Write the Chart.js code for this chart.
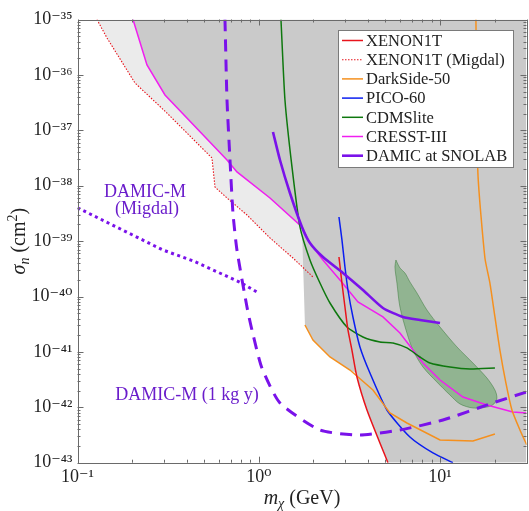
<!DOCTYPE html>
<html>
<head>
<meta charset="utf-8">
<script src="https://cdn.jsdelivr.net/npm/chart.js@4.4.0/dist/chart.umd.min.js"></script>
<style>
  html, body { margin: 0; padding: 0; background: #fff; }
  canvas { display: block; }
</style>
</head>
<body>
<canvas id="limits" width="529" height="511"></canvas>
<script>
// [mass (GeV), cross section (cm^2)]
const xenon1t = [[2.77,5.16e-40],[2.877,1.75e-40],[2.989,6.46e-41],[3.105,2.49e-41],[3.266,1.08e-41],[3.481,3.52e-42],[3.953,8.94e-43],[4.661,2.27e-43],[5.16,1e-43]];
const xenon1tMigdal = [[0.128,1e-35],[0.1455,4.64e-36],[0.2076,7.14e-37],[0.3116,2.05e-37],[0.552,3.16e-38],[0.5734,9.47e-39],[0.668,6.0e-39],[0.861,2.96e-39],[1.153,1.14e-39],[1.544,4.95e-40],[1.991,2.25e-40]];
const darkSideLow = [[1.798,3.06e-41],[1.991,1.64e-41],[2.471,8.09e-42],[3.185,4.71e-42],[4.265,2.05e-42],[5.293,7.89e-43],[6.568,5.21e-43],[10.0,2.57e-43],[15.19,2.46e-43],[20.09,3.30e-43]];
const darkSideHigh = [[15.78,1e-35],[16.18,1.70e-38],[17.69,4.95e-40],[18.85,1.75e-40],[20.09,4.27e-41],[21.4,1.08e-41],[23.09,2.75e-42],[24.93,8.94e-43],[27.6,3.89e-43],[30.1,2.09e-43]];
const pico60 = [[2.77,2.72e-39],[2.877,1.05e-39],[2.989,3.41e-40],[3.105,1.31e-40],[3.308,4.27e-41],[3.616,1.23e-41],[4.106,4.16e-42],[5.095,8.94e-43],[6.823,2.91e-43],[9.14,1.50e-43],[11.78,1e-43]];
const cdmslite = [[1.326,1e-35],[1.395,3.52e-37],[1.525,2.18e-38],[1.688,1.80e-39],[1.916,4.56e-40],[2.176,1.75e-40],[2.471,7.63e-41],[3.066,2.81e-41],[3.756,1.86e-41],[4.661,1.51e-41],[5.50,1.45e-41],[6.568,1.18e-41],[7.747,8.09e-42],[8.80,6.30e-42],[11.34,5.34e-42],[14.62,4.91e-42],[20.09,5.12e-42]];
const cresst3 = [[0.2024,1e-35],[0.2417,1.51e-36],[0.3038,4.34e-37],[0.668,2.91e-38],[0.758,1.77e-38],[1.153,6.0e-39],[1.731,1.80e-39],[1.916,9.24e-40],[2.26,4.56e-40],[2.805,1.99e-40],[3.526,7.96e-41],[4.842,4.27e-41],[6.01,2.19e-41],[7.09,1.08e-41],[8.05,6.30e-42],[10.0,3.11e-42],[13.38,1.53e-42],[18.15,1.10e-42],[25.2,8.23e-43],[30,7.89e-43]];
const damicSnolab = [[1.198,9.32e-38],[1.309,2.91e-38],[1.486,7.38e-39],[1.731,1.80e-39],[1.916,9.24e-40],[2.26,5.16e-40],[2.914,2.66e-40],[3.756,1.31e-40],[4.842,6.20e-41],[6.243,4.27e-41],[7.747,3.77e-41],[10,3.32e-41]];
const damicM = [[0.651,1e-35],[0.668,3.52e-37],[0.694,2.91e-38],[0.7205,3.21e-39],[0.758,6.91e-40],[0.861,6.46e-41],[0.917,2.49e-41],[1.041,5.12e-42],[1.309,1.20e-42],[2.176,3.89e-43],[3.616,3.16e-43],[6.01,3.89e-43],[10.38,5.90e-43],[19.58,1.20e-42],[30,1.89e-42]];
const damicMMigdal = [[0.1,4e-39],[0.296,6.9e-40],[0.434,4.4e-40],[0.79,1.8e-40],[1.0,1.15e-40]];
// edge of the combined excluded region (filled up to the top)
const excludedEdge = [[0.2024,1e-35],[0.2417,1.51e-36],[0.3038,4.34e-37],[0.668,2.91e-38],[0.758,1.77e-38],[1.153,6.0e-39],[1.731,1.80e-39],[1.798,3.06e-41],[1.991,1.64e-41],[2.471,8.09e-42],[3.185,4.71e-42],[3.437,4.16e-42],[3.481,3.52e-42],[3.953,8.94e-43],[4.661,2.27e-43],[5.16,1e-43],[30,1e-43]];
// closed signal contour
const signalContour = [[5.712,4.56e-40],[6.01,3.27e-40],[6.404,2.66e-40],[6.823,1.83e-40],[7.457,1.16e-40],[8.467,5.71e-41],[10.0,2.81e-41],[12.40,1.23e-41],[15.19,6.30e-42],[18.15,3.38e-42],[20.09,2.05e-42],[20.6,1.47e-42],[19.83,1.15e-42],[18.15,1.01e-42],[15.19,9.71e-43],[12.88,1.15e-42],[11.34,1.67e-42],[9.61,2.86e-42],[8.05,5.34e-42],[7.09,1.08e-41],[6.568,2.19e-41],[6.01,6.46e-41],[5.785,1.75e-40],[5.64,3.41e-40],[5.712,4.56e-40]];

const xTicks = [0.1, 1, 10];
const yTicks = [1e-43, 1e-42, 1e-41, 1e-40, 1e-39, 1e-38, 1e-37, 1e-36, 1e-35];
const legendNames = ['XENON1T', 'XENON1T (Migdal)', 'DarkSide-50', 'PICO-60', 'CDMSlite', 'CRESST-III', 'DAMIC at SNOLAB'];
const notes = [
    { text: 'DAMIC-M', at: [0.2357, 6.25e-39] },
    { text: '(Migdal)', at: [0.2417, 3.08e-39] },
    { text: 'DAMIC-M (1 kg y)', at: [0.402, 1.35e-42] }
];

const SERIF = '"Liberation Serif", "DejaVu Serif", serif';
const PURPLE = '#7a12ea';
const pts = arr => arr.map(([x, y]) => ({ x, y }));

const SUP = { '-': '\u207B', '0': '\u2070', '1': '\u00B9', '2': '\u00B2', '3': '\u00B3', '4': '\u2074', '5': '\u2075', '6': '\u2076', '7': '\u2077', '8': '\u2078', '9': '\u2079' };
function powLabel(v) {
    const e = String(Math.round(Math.log10(v)));
    return '10' + e.split('').map(c => SUP[c]).join('');
}

function line(label, data, color, opts = {}) {
    return Object.assign({
        label, data: pts(data), borderColor: color, borderWidth: 1.5,
        fill: false, pointRadius: 0, tension: 0.2, order: 1
    }, opts);
}

const datasets = [
    line('DAMIC-M (1 kg y)', damicM, PURPLE, { borderWidth: 3, borderDash: [12, 8], order: 0 }),
    line('DAMIC-M (Migdal)', damicMMigdal, PURPLE, { borderWidth: 3, borderDash: [3, 3.5], tension: 0, order: 0 }),
    line('DAMIC at SNOLAB', damicSnolab, PURPLE, { borderWidth: 2.6, order: 0 }),
    line('XENON1T', xenon1t, '#e8141c'),
    line('XENON1T (Migdal)', xenon1tMigdal, '#e8141c', { borderWidth: 1.1, borderDash: [1.5, 1.5], tension: 0 }),
    line('DarkSide-50', darkSideLow, '#f5901e', { tension: 0 }),
    line('DarkSide-50 high', darkSideHigh, '#f5901e'),
    line('PICO-60', pico60, '#0a1ef0'),
    line('CDMSlite', cdmslite, '#0e780e'),
    line('CRESST-III', cresst3, '#f01ef0', { tension: 0 }),
    { label: 'signal', data: pts(signalContour), borderColor: 'rgba(40,110,40,0.55)', borderWidth: 0.8,
      backgroundColor: 'rgba(40,140,40,0.35)', fill: 'shape', pointRadius: 0, tension: 0.3, order: 5 },
    { label: 'excluded', data: pts(excludedEdge), borderWidth: 0, borderColor: 'rgba(0,0,0,0)',
      backgroundColor: '#cacaca', fill: 'end', pointRadius: 0, tension: 0, order: 8 },
    { label: 'migdal region', data: pts(xenon1tMigdal), borderWidth: 0, borderColor: 'rgba(0,0,0,0)',
      backgroundColor: '#ebebeb', fill: 'end', pointRadius: 0, tension: 0, order: 9 }
];

const framePlugin = {
    id: 'frame',
    afterDatasetsDraw(chart) {
        const { ctx, chartArea: a, scales: { x, y } } = chart;
        ctx.save();
        ctx.strokeStyle = '#6a6a6a';
        ctx.lineWidth = 1;
        ctx.beginPath();
        for (let d = -1; d <= 1; d++) {
            for (let k = 1; k <= 9; k++) {
                const v = k * Math.pow(10, d);
                if (v > x.max) break;
                const px = Math.round(x.getPixelForValue(v)) + 0.5;
                const len = k === 1 ? 6 : 3;
                ctx.moveTo(px, a.bottom); ctx.lineTo(px, a.bottom - len);
                ctx.moveTo(px, a.top); ctx.lineTo(px, a.top + len);
            }
        }
        for (let d = -43; d < -35; d++) {
            for (let k = 1; k <= 9; k++) {
                const py = Math.round(y.getPixelForValue(k * Math.pow(10, d))) + 0.5;
                const len = k === 1 ? 6 : 3;
                ctx.moveTo(a.left, py); ctx.lineTo(a.left + len, py);
                ctx.moveTo(a.right, py); ctx.lineTo(a.right - len, py);
            }
        }
        ctx.stroke();
        ctx.strokeRect(Math.round(a.left) + 0.5, Math.round(a.top) + 0.5,
            Math.round(a.right - a.left), Math.round(a.bottom - a.top));
        ctx.restore();
    }
};

const textPlugin = {
    id: 'texts',
    afterDraw(chart) {
        const { ctx, chartArea: a, scales: { x, y } } = chart;
        ctx.save();
        // annotations
        ctx.fillStyle = '#6a1ccb';
        ctx.font = '18px ' + SERIF;
        ctx.textAlign = 'center';
        ctx.textBaseline = 'alphabetic';
        notes.forEach(n => ctx.fillText(n.text, x.getPixelForValue(n.at[0]), y.getPixelForValue(n.at[1])));

        // legend
        const bx = 338, by = 30, bw = 175, bh = 137;
        ctx.fillStyle = '#fff';
        ctx.fillRect(bx, by, bw, bh);
        ctx.strokeStyle = '#7a7a7a';
        ctx.lineWidth = 1;
        ctx.strokeRect(bx + 0.5, by + 0.5, bw, bh);
        ctx.font = '16.5px ' + SERIF;
        ctx.textAlign = 'left';
        ctx.textBaseline = 'middle';
        legendNames.forEach((name, i) => {
            const ds = chart.data.datasets.find(d => d.label === name);
            const ry = by + 10.5 + i * 19.2;
            ctx.strokeStyle = ds.borderColor;
            ctx.lineWidth = ds.borderWidth;
            ctx.setLineDash(ds.borderDash || []);
            ctx.beginPath();
            ctx.moveTo(bx + 4, ry); ctx.lineTo(bx + 25, ry);
            ctx.stroke();
            ctx.setLineDash([]);
            ctx.fillStyle = '#222';
            ctx.fillText(name, bx + 28, ry + 1);
        });

        // axis titles
        ctx.fillStyle = '#222';
        ctx.textBaseline = 'alphabetic';
        const parts = (list) => list.reduce((w, p) => { ctx.font = p.f; return w + ctx.measureText(p.t).width; }, 0);
        const drawParts = (list, x0, y0) => {
            let cx = x0;
            list.forEach(p => { ctx.font = p.f; ctx.fillText(p.t, cx, y0 + (p.dy || 0)); cx += ctx.measureText(p.t).width; });
        };
        const xt = [
            { t: 'm', f: 'italic 20px ' + SERIF },
            { t: '\u03C7', f: 'italic 14px ' + SERIF, dy: 4 },
            { t: ' (GeV)', f: '20px ' + SERIF }
        ];
        ctx.textAlign = 'left';
        drawParts(xt, (a.left + a.right) / 2 - parts(xt) / 2, 504);
        const yt = [
            { t: '\u03C3', f: 'italic 20px ' + SERIF },
            { t: 'n', f: 'italic 14px ' + SERIF, dy: 4 },
            { t: ' (cm', f: '20px ' + SERIF },
            { t: '2', f: '14px ' + SERIF, dy: -8 },
            { t: ')', f: '20px ' + SERIF }
        ];
        ctx.translate(25, (a.top + a.bottom) / 2);
        ctx.rotate(-Math.PI / 2);
        drawParts(yt, -parts(yt) / 2, 0);
        ctx.restore();
    }
};

const tickFont = { family: SERIF, size: 18 };

new Chart(document.getElementById('limits'), {
    type: 'line',
    data: { datasets },
    options: {
        responsive: false,
        animation: false,
        devicePixelRatio: 1,
        layout: { padding: { left: 0, right: 2.5, top: 19.5, bottom: 0 } },
        plugins: { legend: { display: false }, tooltip: { enabled: false } },
        scales: {
            x: {
                type: 'logarithmic', min: 0.1, max: 30,
                afterFit: s => { s.height = 48.3; },
                afterBuildTicks: s => { s.ticks = xTicks.map(v => ({ value: v })); },
                grid: { display: false, drawTicks: false },
                border: { display: false },
                ticks: { autoSkip: false, maxRotation: 0, padding: 4, color: '#222', font: tickFont, callback: v => powLabel(v) }
            },
            y: {
                type: 'logarithmic', min: 1e-43, max: 1e-35,
                afterFit: s => { s.width = 77.5; },
                afterBuildTicks: s => { s.ticks = yTicks.map(v => ({ value: v })); },
                grid: { display: false, drawTicks: false },
                border: { display: false },
                ticks: { autoSkip: false, padding: 5, color: '#222', font: tickFont, callback: v => powLabel(v) }
            }
        }
    },
    plugins: [framePlugin, textPlugin]
});
</script>
</body>
</html>
